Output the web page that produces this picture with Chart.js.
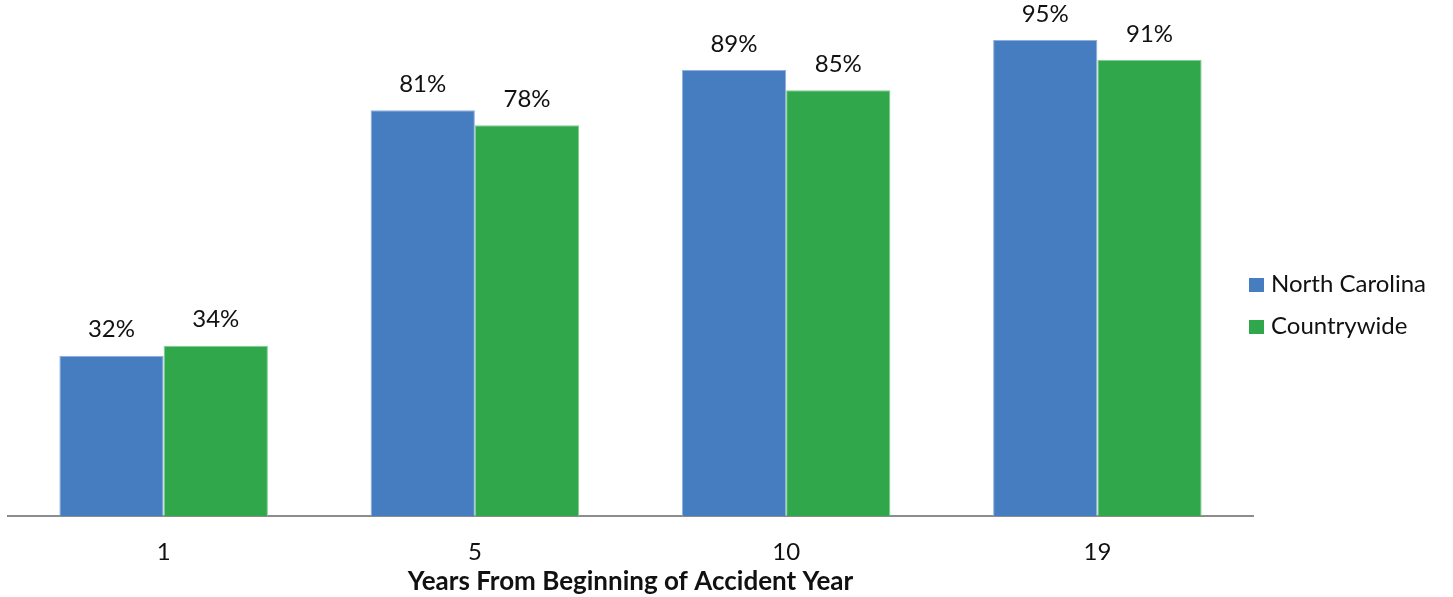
<!DOCTYPE html>
<html>
<head>
<meta charset="utf-8">
<script src="https://cdn.jsdelivr.net/npm/chart.js@4.4.1/dist/chart.umd.min.js"></script>
<style>
  body { margin: 0; background: #fff; }
  #wrap { width: 1453px; height: 597px; position: relative; }
</style>
</head>
<body>
<div id="wrap"><canvas id="chart"></canvas></div>
<script>
// payout percentages by years from start of accident year
const years = ['1', '5', '10', '19'];
const northCarolina = [32, 81, 89, 95];
const countrywide = [34, 78, 85, 91];

const FONT = 'Lato, "Noto Sans", sans-serif';

// percent labels above each bar
const barLabels = {
    id: 'barLabels',
    afterDatasetsDraw(chart) {
        const ctx = chart.ctx;
        ctx.save();
        ctx.font = '24px ' + FONT;
        ctx.fillStyle = '#111';
        ctx.textAlign = 'center';
        ctx.textBaseline = 'middle';
        chart.data.datasets.forEach((ds, i) => {
            chart.getDatasetMeta(i).data.forEach((bar, j) => {
                ctx.fillText(ds.data[j] + '%', bar.x, bar.y - 26);
            });
        });
        ctx.restore();
    }
};

// legend to the right of the plot, drawn from the datasets
const sideLegend = {
    id: 'sideLegend',
    afterDraw(chart) {
        const ctx = chart.ctx;
        const x = chart.chartArea.right - 4;
        let y = 285;
        ctx.save();
        ctx.font = '24px ' + FONT;
        ctx.textBaseline = 'middle';
        ctx.textAlign = 'left';
        chart.data.datasets.forEach(ds => {
            ctx.fillStyle = ds.backgroundColor;
            ctx.fillRect(x, y - 7, 15, 14);
            ctx.fillStyle = '#111';
            ctx.fillText(ds.label, x + 22, y - 1);
            y += 42;
        });
        ctx.restore();
    }
};

const ctx = document.getElementById('chart').getContext('2d');
const myChart = new Chart(ctx, {
    type: 'bar',
    data: {
        labels: years,
        datasets: [{
            label: 'North Carolina',
            data: northCarolina,
            backgroundColor: '#467dc0',
            borderColor: '#8fb0dc',
            borderWidth: 1
        }, {
            label: 'Countrywide',
            data: countrywide,
            backgroundColor: '#30a74a',
            borderColor: '#7fcf90',
            borderWidth: 1
        }]
    },
    options: {
        responsive: true,
        maintainAspectRatio: false,
        animation: false,
        layout: { padding: { left: 8, top: 15, right: 200, bottom: 4 } },
        datasets: {
            bar: { categoryPercentage: 0.67, barPercentage: 1.0 }
        },
        plugins: {
            tooltip: { enabled: false },
            legend: { display: false }
        },
        scales: {
            x: {
                grid: { display: false },
                border: { display: true, color: '#8c8c8c', width: 2 },
                ticks: {
                    color: '#111',
                    font: { family: FONT, size: 24 },
                    padding: 14
                },
                title: {
                    display: true,
                    text: 'Years From Beginning of Accident Year',
                    color: '#111',
                    font: { family: FONT, size: 26, weight: 'bold' },
                    padding: { top: -15, bottom: -4 }
                }
            },
            y: {
                display: false,
                min: 0,
                max: 100
            }
        }
    },
    plugins: [barLabels, sideLegend]
});
</script>
</body>
</html>
